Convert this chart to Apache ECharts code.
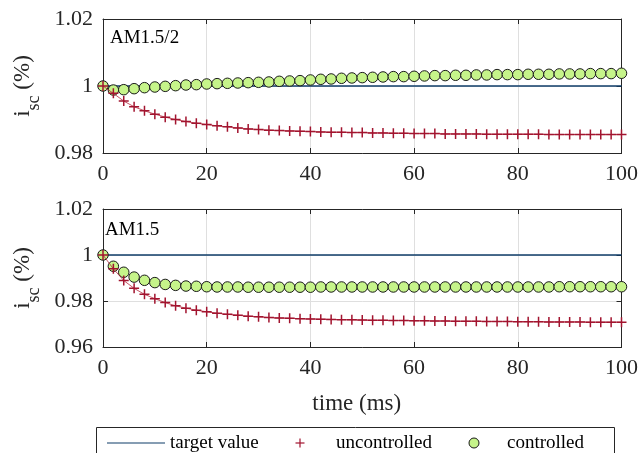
<!DOCTYPE html>
<html>
<head>
<meta charset="utf-8">
<title>isc</title>
<script src="https://cdn.jsdelivr.net/npm/echarts@6/dist/echarts.min.js"></script>
<style>
html, body { margin: 0; padding: 0; background: #fff; }
#main { width: 641px; height: 453px; }
</style>
</head>
<body>
<div id="main"></div>
<script>
//时间轴 (ms)
var times = [0, 2, 4, 6, 8, 10, 12, 14, 16, 18, 20, 22, 24, 26, 28, 30, 32, 34, 36, 38, 40,
	42, 44, 46, 48, 50, 52, 54, 56, 58, 60, 62, 64, 66, 68, 70, 72, 74, 76, 78, 80,
	82, 84, 86, 88, 90, 92, 94, 96, 98, 100];
var targetTimes = [0, 100];
var targetValue = [1, 1];

//AM1.5/2
var uncontrolledA = [1.0000, 0.9978, 0.9955, 0.9938, 0.9926, 0.9916, 0.9907, 0.9900, 0.9894, 0.9889, 0.9885,
	0.9881, 0.9878, 0.9875, 0.9872, 0.9870, 0.9868, 0.9867, 0.9866, 0.9865, 0.9864,
	0.9863, 0.9862, 0.9862, 0.9861, 0.9861, 0.9860, 0.9860, 0.9859, 0.9859, 0.9858,
	0.9858, 0.9858, 0.9857, 0.9857, 0.9857, 0.9857, 0.9856, 0.9856, 0.9856, 0.9856,
	0.9856, 0.9856, 0.9855, 0.9855, 0.9855, 0.9855, 0.9855, 0.9855, 0.9855, 0.9855];
var controlledA = [1.0000, 0.9988, 0.9989, 0.9992, 0.9995, 0.9997, 0.9999, 1.0001, 1.0003, 1.0004, 1.0006,
	1.0007, 1.0008, 1.0009, 1.0010, 1.0011, 1.0012, 1.0014, 1.0015, 1.0016, 1.0018,
	1.0020, 1.0021, 1.0023, 1.0024, 1.0025, 1.0026, 1.0027, 1.0028, 1.0028, 1.0029,
	1.0030, 1.0031, 1.0031, 1.0032, 1.0032, 1.0033, 1.0033, 1.0034, 1.0034, 1.0034,
	1.0035, 1.0035, 1.0035, 1.0036, 1.0036, 1.0036, 1.0037, 1.0037, 1.0037, 1.0038];

//AM1.5
var uncontrolledB = [1.0000, 0.9940, 0.9889, 0.9855, 0.9829, 0.9810, 0.9793, 0.9779, 0.9769, 0.9760, 0.9753,
	0.9747, 0.9742, 0.9738, 0.9734, 0.9731, 0.9728, 0.9726, 0.9725, 0.9723, 0.9722,
	0.9721, 0.9720, 0.9719, 0.9718, 0.9717, 0.9716, 0.9716, 0.9715, 0.9715, 0.9714,
	0.9714, 0.9713, 0.9713, 0.9712, 0.9712, 0.9712, 0.9711, 0.9711, 0.9711, 0.9710,
	0.9710, 0.9710, 0.9709, 0.9709, 0.9709, 0.9709, 0.9708, 0.9708, 0.9708, 0.9708];
var controlledB = [1.0000, 0.9951, 0.9925, 0.9904, 0.9890, 0.9880, 0.9872, 0.9868, 0.9865, 0.9864, 0.9862,
	0.9861, 0.9861, 0.9861, 0.9860, 0.9860, 0.9860, 0.9860, 0.9860, 0.9860, 0.9860,
	0.9861, 0.9861, 0.9861, 0.9861, 0.9861, 0.9861, 0.9861, 0.9861, 0.9861, 0.9861,
	0.9861, 0.9861, 0.9861, 0.9861, 0.9861, 0.9861, 0.9861, 0.9861, 0.9861, 0.9861,
	0.9861, 0.9861, 0.9861, 0.9862, 0.9862, 0.9862, 0.9862, 0.9862, 0.9862, 0.9862];

var xTicks = [0, 20, 40, 60, 80, 100];
var yRangeA = [0.98, 1.02];
var yRangeB = [0.96, 1.02];
var legendNames = ['target value', 'uncontrolled', 'controlled'];

var FONT = "'Liberation Serif', 'Times New Roman', serif";
var INK = '#262626';
var BLUE = '#0f3d68';
var RED = '#a2142f';
var GREEN = '#c6f48a';
var CROSS = 'path://M4.25,0H5.75V4.25H10V5.75H5.75V10H4.25V5.75H0V4.25H4.25Z';

function pairs(xs, ys) {
	var out = [];
	for(var k = 0; k < xs.length; k++) {
		out.push([xs[k], ys[k]]);
	}
	return out;
}

//主坐标轴
function xMain(idx, withName) {
	return {
		type: 'value', gridIndex: idx, position: 'bottom',
		min: xTicks[0], max: xTicks[xTicks.length - 1], interval: 20,
		axisLine: { show: true, onZero: false, lineStyle: { color: INK, width: 1 } },
		axisTick: { show: true, inside: true, length: 5, lineStyle: { color: INK } },
		axisLabel: { show: true, margin: 10, color: INK, fontFamily: FONT, fontSize: 22 },
		splitLine: { show: true, lineStyle: { color: '#dfdfdf', width: 1 } },
		name: withName ? 'time (ms)' : '',
		nameLocation: 'middle', nameGap: 45,
		nameTextStyle: { color: INK, fontFamily: FONT, fontSize: 23, padding: [0, 11, 0, 0] }
	};
}
//上边框
function xBox(idx) {
	return {
		type: 'value', gridIndex: idx, position: 'top',
		min: xTicks[0], max: xTicks[xTicks.length - 1], interval: 20,
		axisLine: { show: true, onZero: false, lineStyle: { color: INK, width: 1 } },
		axisTick: { show: true, inside: true, length: 5, lineStyle: { color: INK } },
		axisLabel: { show: false },
		splitLine: { show: false }
	};
}
function yMain(idx, range) {
	return {
		type: 'value', gridIndex: idx, position: 'left',
		min: range[0], max: range[1], interval: 0.02,
		axisLine: { show: true, onZero: false, lineStyle: { color: INK, width: 1 } },
		axisTick: { show: true, inside: true, length: 5, lineStyle: { color: INK } },
		axisLabel: { show: true, margin: 10, color: INK, fontFamily: FONT, fontSize: 22 },
		splitLine: { show: true, lineStyle: { color: '#dfdfdf', width: 1 } },
		name: '{a|i}{b|sc}{a| (%)}',
		nameLocation: 'middle', nameGap: 55, nameRotate: 90,
		nameTextStyle: {
			color: INK, fontFamily: FONT, fontSize: 22,
			rich: {
				a: { color: INK, fontFamily: FONT, fontSize: 23, lineHeight: 42 },
				b: { color: INK, fontFamily: FONT, fontSize: 18, lineHeight: 18, verticalAlign: 'bottom' }
			}
		}
	};
}
//右边框
function yBox(idx, range) {
	return {
		type: 'value', gridIndex: idx, position: 'right',
		min: range[0], max: range[1], interval: 0.02,
		axisLine: { show: true, onZero: false, lineStyle: { color: INK, width: 1 } },
		axisTick: { show: true, inside: true, length: 5, lineStyle: { color: INK } },
		axisLabel: { show: false },
		splitLine: { show: false }
	};
}

function targetSeries(idx) {
	return {
		name: legendNames[0], type: 'line', xAxisIndex: idx * 2, yAxisIndex: idx * 2, z: 2,
		data: pairs(targetTimes, targetValue), symbol: 'none',
		lineStyle: { color: BLUE, width: 1.3 }, itemStyle: { color: BLUE }
	};
}
function controlledSeries(idx, vals) {
	return {
		name: legendNames[2], type: 'scatter', xAxisIndex: idx * 2, yAxisIndex: idx * 2, z: 3,
		data: pairs(times, vals), symbol: 'circle', symbolSize: 10.5,
		itemStyle: { color: GREEN, borderColor: '#1a1a1a', borderWidth: 1, opacity: 1 }
	};
}
function uncontrolledSeries(idx, vals) {
	return {
		name: legendNames[1], type: 'line', xAxisIndex: idx * 2, yAxisIndex: idx * 2, z: 4,
		data: pairs(times, vals), symbol: CROSS, symbolSize: 10, showSymbol: true, showAllSymbol: true,
		lineStyle: { color: '#b0182f', width: 1, opacity: 0.75 },
		itemStyle: { color: RED, borderWidth: 0 }
	};
}

//图例 (画在框里)
var legendY = 443;
var legendText = { fill: '#000', fontFamily: FONT, fontSize: 19, textVerticalAlign: 'middle' };
function legendLabel(str, x) {
	return { type: 'text', silent: true, z: 10, style: Object.assign({ text: str, x: x, y: legendY }, legendText) };
}
var legendParts = [
	{ type: 'rect', silent: true, z: 9, shape: { x: 96.5, y: 427.5, width: 518, height: 40 }, style: { fill: '#fff', stroke: INK, lineWidth: 1 } },
	{ type: 'line', silent: true, z: 10, shape: { x1: 107, y1: legendY, x2: 165, y2: legendY }, style: { stroke: BLUE, lineWidth: 1.2 } },
	legendLabel(legendNames[0], 170),
	{ type: 'rect', silent: true, z: 10, shape: { x: 295.5, y: legendY - 0.6, width: 9, height: 1.2 }, style: { fill: RED } },
	{ type: 'rect', silent: true, z: 10, shape: { x: 299.4, y: legendY - 4.5, width: 1.2, height: 9 }, style: { fill: RED } },
	legendLabel(legendNames[1], 336),
	{ type: 'circle', silent: true, z: 10, shape: { cx: 474, cy: legendY, r: 5 }, style: { fill: GREEN, stroke: '#1a1a1a', lineWidth: 1 } },
	legendLabel(legendNames[2], 507)
];

var myChart = echarts.init(document.getElementById('main'), null, { renderer: 'canvas' });
var option = {
	animation: false,
	backgroundColor: '#fff',
	title: [
		{ text: 'AM1.5/2', left: 110, top: 29, padding: 0, textStyle: { color: '#000', fontFamily: FONT, fontSize: 19, fontWeight: 'normal' } },
		{ text: 'AM1.5', left: 105, top: 221, padding: 0, textStyle: { color: '#000', fontFamily: FONT, fontSize: 19, fontWeight: 'normal' } }
	],
	grid: [
		{ left: 103, right: 18, top: 19, height: 134 },
		{ left: 103, right: 18, top: 209, height: 138 }
	],
	xAxis: [xMain(0, false), xBox(0), xMain(1, true), xBox(1)],
	yAxis: [yMain(0, yRangeA), yBox(0, yRangeA), yMain(1, yRangeB), yBox(1, yRangeB)],
	graphic: legendParts,
	series: [
		targetSeries(0), controlledSeries(0, controlledA), uncontrolledSeries(0, uncontrolledA),
		targetSeries(1), controlledSeries(1, controlledB), uncontrolledSeries(1, uncontrolledB)
	]
};
myChart.setOption(option);
</script>
</body>
</html>
